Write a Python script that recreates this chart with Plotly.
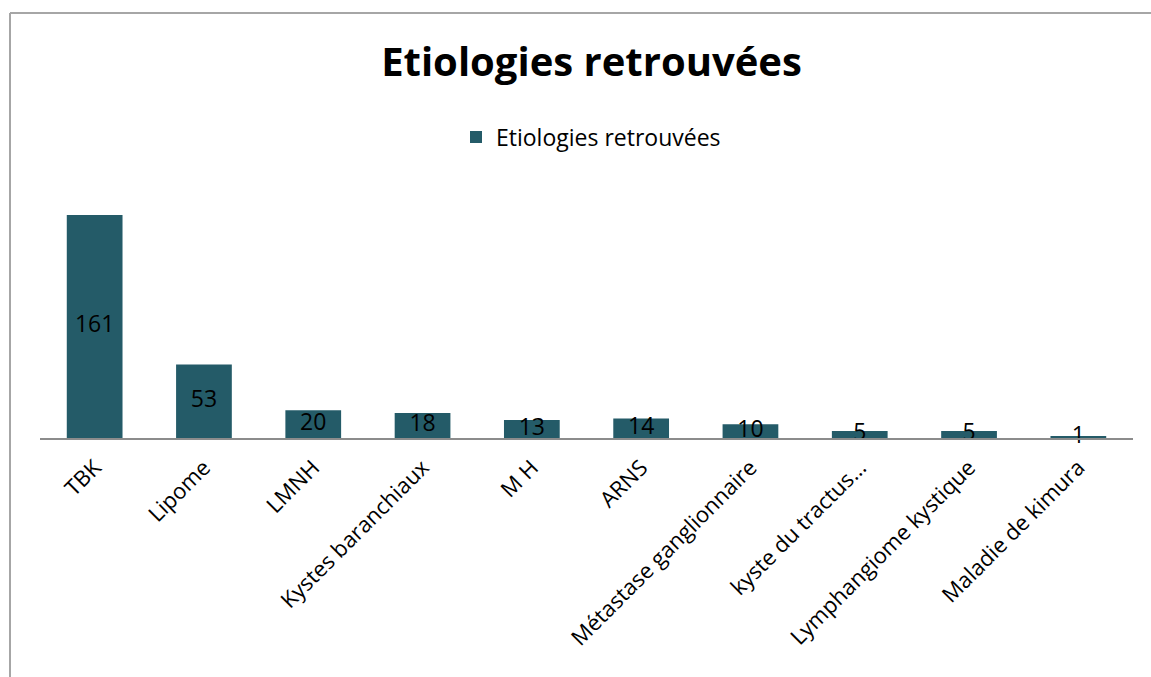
import plotly.graph_objects as go

categories = ["TBK", "Lipome", "LMNH", "Kystes baranchiaux", "M H", "ARNS",
              "Métastase ganglionnaire", "kyste du tractus…", "Lymphangiome kystique",
              "Maladie de kimura"]
values = [161, 53, 20, 18, 13, 14, 10, 5, 5, 1]
series_name = "Etiologies retrouvées"
title_text = "Etiologies retrouvées"

W, H = 1151, 677
ML, MR, MT, MB = 40, 18, 188, 239
plot_h = H - MT - MB
ymax = plot_h * 161 / 223.0

bar_color = "#245B68"
font_family = "'Open Sans', 'Noto Sans', sans-serif"

fig = go.Figure()
fig.add_trace(go.Bar(
    x=categories, y=values, name=series_name,
    marker=dict(color=bar_color, line=dict(width=0)),
    hoverinfo="x+y",
))
fig.add_trace(go.Scatter(
    x=categories, y=[v / 2 for v in values], mode="text",
    text=[str(v) for v in values],
    textfont=dict(family=font_family, size=23, color="#000000"),
    textposition="middle center",
    showlegend=False, hoverinfo="skip", cliponaxis=False,
))

def px_to_paper_x(px):
    return (px - ML) / (W - ML - MR)

def px_to_paper_y(py):
    return (H - MB - py) / plot_h

border_color = "#A6A6A6"
fig.add_shape(type="line", xref="paper", yref="paper",
              x0=px_to_paper_x(10), x1=px_to_paper_x(1151),
              y0=px_to_paper_y(13), y1=px_to_paper_y(13),
              line=dict(color=border_color, width=2))
fig.add_shape(type="line", xref="paper", yref="paper",
              x0=px_to_paper_x(10), x1=px_to_paper_x(10),
              y0=px_to_paper_y(13), y1=px_to_paper_y(677),
              line=dict(color=border_color, width=2))

fig.update_layout(
    width=W, height=H,
    margin=dict(l=ML, r=MR, t=MT, b=MB, pad=0),
    paper_bgcolor="white", plot_bgcolor="white",
    bargap=0.49,
    title=dict(text="<b>" + title_text + "</b>", x=(383 + 800) / 2 / W, xanchor="center",
               y=1 - 62 / H, yanchor="middle", yref="container",
               font=dict(family=font_family, size=40, color="#000000")),
    legend=dict(orientation="h", x=px_to_paper_x(591), xanchor="center",
                y=px_to_paper_y(137), yanchor="middle",
                font=dict(family=font_family, size=23, color="#000000"),
                bgcolor="rgba(0,0,0,0)", itemwidth=30),
    xaxis=dict(showline=True, linecolor="#8C8C8C", linewidth=2, ticks="",
               tickangle=-45, tickfont=dict(family=font_family, size=22, color="#000000"),
               ticklabelstandoff=6,
               showgrid=False, zeroline=False, fixedrange=True),
    yaxis=dict(range=[0, ymax], visible=False, showgrid=False, zeroline=False,
               fixedrange=True),
    showlegend=True,
)

fig.write_html("out.html")
